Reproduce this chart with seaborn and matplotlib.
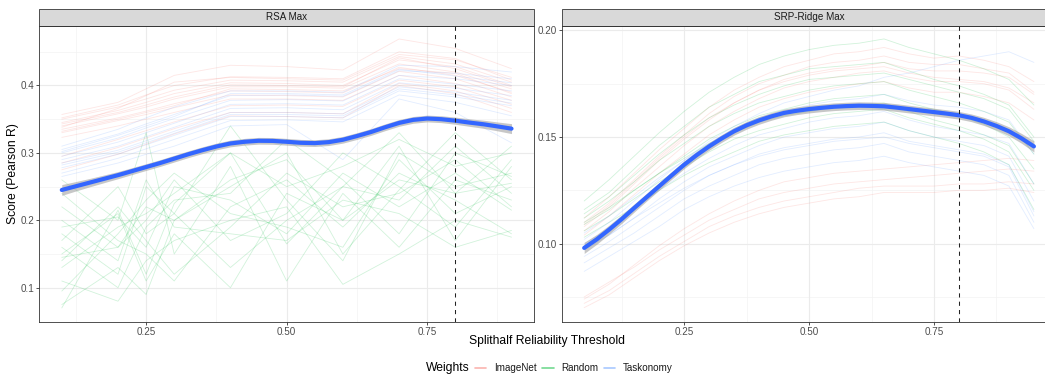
import numpy as np
import pandas as pd
import matplotlib
matplotlib.use("Agg")
import matplotlib.pyplot as plt
import seaborn as sns
from matplotlib.patches import Rectangle
from matplotlib.lines import Line2D
from matplotlib.ticker import FixedLocator

# ---------------- data ----------------
panel_titles = ["RSA Max", "SRP-Ridge Max"]
weights = ["ImageNet", "Random", "Taskonomy"]
weight_colors = ["#F8766D", "#00BA38", "#619CFF"]
vline_x = 0.8

# RSA Max thresholds
rsa_x = [0.1, 0.2, 0.25, 0.3, 0.4, 0.5, 0.6, 0.7, 0.8, 0.9]

rsa_imagenet = [
    [.357, .375, .395, .415, .430, .428, .423, .469, .455, .425],
    [.350, .368, .380, .393, .408, .407, .405, .443, .432, .405],
    [.345, .363, .375, .388, .404, .403, .400, .438, .428, .400],
    [.340, .358, .368, .380, .398, .398, .396, .432, .420, .395],
    [.335, .352, .362, .373, .392, .391, .389, .427, .415, .390],
    [.330, .348, .357, .367, .386, .385, .383, .421, .410, .383],
    [.323, .340, .350, .360, .380, .380, .378, .415, .403, .378],
    [.295, .320, .333, .346, .370, .371, .369, .408, .398, .372],
    [.285, .308, .322, .336, .360, .360, .358, .403, .392, .366],
    [.275, .298, .313, .328, .355, .354, .352, .400, .388, .360],
    [.338, .366, .385, .405, .412, .410, .408, .446, .438, .412],
    [.343, .360, .371, .383, .401, .400, .398, .441, .425, .398],
    [.352, .371, .386, .400, .413, .412, .410, .450, .440, .408],
    [.332, .350, .360, .370, .395, .394, .392, .425, .418, .388],
]
rsa_taskonomy = [
    [.310, .335, .352, .368, .392, .392, .390, .430, .428, .420],
    [.305, .328, .343, .357, .385, .386, .384, .422, .418, .410],
    [.300, .322, .337, .351, .378, .379, .377, .415, .410, .400],
    [.295, .316, .330, .344, .372, .373, .371, .410, .402, .392],
    [.290, .310, .324, .338, .366, .367, .364, .404, .396, .385],
    [.285, .304, .318, .332, .360, .360, .358, .398, .390, .378],
    [.278, .298, .312, .326, .354, .354, .352, .392, .383, .370],
    [.270, .292, .306, .320, .348, .349, .346, .386, .375, .355],
    [.265, .285, .298, .310, .340, .342, .290, .380, .360, .315],
    [.302, .326, .340, .354, .388, .388, .386, .424, .414, .404],
    [.282, .301, .315, .329, .357, .357, .355, .395, .386, .374],
]
rsa_random = [
    [.070, .215, .120, .225, .300, .165, .250, .330, .240, .310],
    [.075, .130, .090, .200, .250, .300, .150, .245, .330, .260],
    [.150, .210, .110, .180, .100, .240, .200, .310, .170, .280],
    [.260, .200, .330, .150, .280, .110, .240, .160, .260, .230],
    [.180, .120, .250, .210, .340, .230, .140, .300, .250, .270],
    [.140, .220, .170, .120, .190, .270, .220, .240, .290, .220],
    [.220, .160, .200, .260, .170, .210, .300, .250, .190, .290],
    [.095, .180, .230, .270, .210, .190, .160, .290, .210, .250],
    [.160, .100, .190, .230, .240, .320, .260, .180, .300, .265],
    [.240, .170, .150, .110, .220, .260, .190, .270, .230, .180],
    [.200, .140, .260, .190, .180, .170, .230, .210, .160, .185],
    [.130, .190, .210, .240, .300, .250, .280, .320, .280, .300],
    [.110, .080, .140, .170, .200, .220, .105, .150, .200, .175],
    [.170, .250, .180, .210, .130, .200, .250, .230, .310, .240],
    [.145, .160, .220, .200, .260, .290, .200, .260, .240, .255],
    [.190, .205, .160, .250, .230, .180, .270, .220, .270, .215],
]

# SRP-Ridge Max thresholds
srp_x = [0.05, 0.10, 0.15, 0.20, 0.25, 0.30, 0.35, 0.40, 0.45, 0.50,
         0.55, 0.60, 0.65, 0.70, 0.75, 0.80, 0.85, 0.90, 0.95]

srp_imagenet = [
    [.112, .122, .133, .144, .154, .164, .172, .178, .183, .186, .189, .190, .192, .189, .187, .188, .186, .183, .176],
    [.110, .119, .130, .141, .151, .161, .169, .175, .179, .183, .185, .186, .188, .185, .184, .184, .182, .180, .171],
    [.108, .117, .128, .139, .149, .158, .166, .172, .177, .180, .182, .183, .185, .182, .181, .181, .180, .178, .170],
    [.106, .115, .126, .136, .146, .155, .162, .168, .173, .176, .178, .180, .181, .178, .176, .176, .175, .172, .163],
    [.104, .113, .123, .133, .142, .151, .158, .164, .168, .171, .173, .175, .176, .173, .171, .171, .169, .166, .158],
    [.109, .118, .129, .140, .150, .159, .166, .172, .176, .179, .181, .182, .183, .180, .178, .177, .176, .173, .166],
    [.075, .082, .089, .097, .104, .111, .116, .121, .124, .126, .128, .129, .130, .131, .132, .133, .134, .135, .134],
    [.072, .078, .086, .094, .101, .108, .113, .117, .120, .122, .124, .126, .127, .127, .127, .128, .128, .129, .128],
    [.070, .076, .084, .092, .099, .105, .110, .114, .117, .119, .121, .122, .124, .124, .124, .125, .125, .126, .124],
    [.074, .081, .090, .099, .107, .114, .120, .125, .129, .131, .133, .134, .135, .136, .137, .138, .139, .140, .139],
]
srp_random = [
    [.120, .130, .141, .152, .162, .171, .178, .184, .188, .191, .193, .194, .196, .192, .189, .186, .182, .177, .165],
    [.116, .124, .135, .146, .155, .164, .170, .176, .179, .182, .183, .184, .185, .181, .177, .174, .170, .165, .150],
    [.112, .120, .129, .139, .147, .155, .161, .166, .169, .172, .174, .175, .176, .172, .169, .166, .162, .157, .142],
    [.109, .116, .125, .133, .141, .149, .155, .160, .163, .166, .168, .169, .170, .166, .163, .160, .156, .150, .135],
    [.106, .113, .121, .129, .136, .143, .149, .153, .156, .159, .161, .162, .163, .159, .156, .153, .149, .143, .125],
    [.103, .110, .117, .125, .132, .138, .143, .148, .151, .153, .155, .156, .157, .153, .150, .147, .143, .137, .116],
    [.110, .117, .125, .133, .140, .147, .152, .157, .160, .162, .164, .165, .166, .162, .158, .155, .151, .146, .128],
    [.114, .122, .132, .142, .151, .159, .165, .170, .174, .177, .178, .179, .180, .177, .174, .171, .168, .163, .148],
]
srp_taskonomy = [
    [.105, .113, .122, .131, .139, .147, .154, .159, .162, .165, .167, .168, .170, .167, .165, .164, .162, .158, .142],
    [.100, .107, .116, .125, .133, .140, .146, .151, .154, .157, .159, .160, .162, .158, .155, .153, .151, .147, .128],
    [.097, .104, .112, .121, .129, .136, .141, .146, .150, .152, .154, .155, .157, .153, .150, .148, .146, .141, .120],
    [.094, .101, .109, .117, .125, .132, .137, .142, .145, .147, .149, .150, .152, .148, .146, .144, .142, .137, .115],
    [.091, .098, .105, .113, .121, .127, .132, .137, .140, .142, .144, .145, .147, .143, .141, .139, .137, .132, .110],
    [.087, .094, .101, .108, .116, .122, .127, .131, .134, .136, .138, .139, .141, .138, .136, .134, .132, .127, .107],
    [.098, .104, .112, .119, .126, .132, .137, .141, .144, .146, .148, .149, .150, .147, .145, .143, .141, .136, .113],
    [.102, .110, .120, .130, .139, .148, .155, .161, .166, .169, .172, .174, .178, .180, .183, .186, .188, .190, .185],
]

# smooth (loess) fits
rsa_smooth_x = [0.100, 0.125, 0.150, 0.175, 0.200, 0.225, 0.250, 0.275, 0.300, 0.325,
                0.350, 0.375, 0.400, 0.425, 0.450, 0.475, 0.500, 0.525, 0.550, 0.575,
                0.600, 0.625, 0.650, 0.675, 0.700, 0.725, 0.750, 0.775, 0.800, 0.825,
                0.850, 0.875, 0.900]
rsa_smooth_y = [.2450, .2505, .2560, .2615, .2670, .2730, .2790, .2850, .2915, .2980,
                .3040, .3095, .3140, .3165, .3180, .3178, .3165, .3150, .3145, .3160,
                .3195, .3250, .3310, .3380, .3445, .3490, .3510, .3500, .3478, .3450,
                .3425, .3393, .3360]
rsa_smooth_se = [.0080, .0070, .0062, .0057, .0053, .0051, .0050, .0050, .0050, .0050,
                 .0050, .0050, .0050, .0050, .0050, .0050, .0050, .0050, .0050, .0050,
                 .0050, .0050, .0050, .0050, .0050, .0050, .0050, .0051, .0053, .0056,
                 .0060, .0066, .0074]

srp_smooth_x = [0.050, 0.075, 0.100, 0.125, 0.150, 0.175, 0.200, 0.225, 0.250, 0.275,
                0.300, 0.325, 0.350, 0.375, 0.400, 0.425, 0.450, 0.475, 0.500, 0.525,
                0.550, 0.575, 0.600, 0.625, 0.650, 0.675, 0.700, 0.725, 0.750, 0.775,
                0.800, 0.825, 0.850, 0.875, 0.900, 0.925, 0.950]
srp_smooth_y = [.0980, .1020, .1066, .1115, .1167, .1218, .1269, .1320, .1370, .1415,
                .1456, .1493, .1527, .1555, .1578, .1597, .1613, .1623, .1631, .1637,
                .1642, .1645, .1647, .1646, .1644, .1638, .1631, .1624, .1617, .1610,
                .1602, .1590, .1573, .1552, .1527, .1494, .1456]
srp_smooth_se = [.0026, .0023, .0021, .0020, .0019, .0018, .0018, .0018, .0018, .0018,
                 .0018, .0018, .0018, .0018, .0018, .0018, .0018, .0018, .0018, .0018,
                 .0018, .0018, .0018, .0018, .0018, .0018, .0018, .0018, .0018, .0018,
                 .0018, .0018, .0019, .0020, .0021, .0023, .0026]

x_ticks = [0.25, 0.50, 0.75]
x_tick_labels = ["0.25", "0.50", "0.75"]
rsa_y_ticks = [0.1, 0.2, 0.3, 0.4]
rsa_y_tick_labels = ["0.1", "0.2", "0.3", "0.4"]
srp_y_ticks = [0.10, 0.15, 0.20]
srp_y_tick_labels = ["0.10", "0.15", "0.20"]

x_title = "Splithalf Reliability Threshold"
y_title = "Score (Pearson R)"
legend_title = "Weights"

# ---------------- build long frames ----------------
def to_frame(xs, groups):
    rows = []
    for wname, lines in groups:
        for i, line in enumerate(lines):
            for xv, yv in zip(xs, line):
                rows.append({"x": xv, "score": yv, "weights": wname,
                             "model": f"{wname}_{i}"})
    return pd.DataFrame(rows)

rsa_df = to_frame(rsa_x, [("ImageNet", rsa_imagenet), ("Random", rsa_random),
                          ("Taskonomy", rsa_taskonomy)])
srp_df = to_frame(srp_x, [("ImageNet", srp_imagenet), ("Random", srp_random),
                          ("Taskonomy", srp_taskonomy)])
rsa_sm = pd.DataFrame({"x": rsa_smooth_x, "y": rsa_smooth_y, "se": rsa_smooth_se})
srp_sm = pd.DataFrame({"x": srp_smooth_x, "y": srp_smooth_y, "se": srp_smooth_se})

# ---------------- style ----------------
sns.set_theme(style="white")
plt.rcParams["font.family"] = ["Liberation Sans", "DejaVu Sans"]

W, H = 1045, 377
fig = plt.figure(figsize=(W / 100, H / 100), dpi=100)

panel_w = 494.7
panel_top = 25.5
panel_bot = 321.7
panel_lefts = [39.3, 561.7]
strip_h = 16.2

palette = dict(zip(weights, weight_colors))

specs = [
    (rsa_df, rsa_sm, (0.06, 0.94), (0.0496, 0.489), rsa_y_ticks, rsa_y_tick_labels,
     [0.125, 0.375, 0.625, 0.875], [0.15, 0.25, 0.35, 0.45]),
    (srp_df, srp_sm, (0.005, 0.995), (0.0634, 0.2023), srp_y_ticks, srp_y_tick_labels,
     [0.125, 0.375, 0.625, 0.875], [0.075, 0.125, 0.175]),
]

for k, (df, sm, xl, yl, yt, ytl, xminor, yminor) in enumerate(specs):
    left = panel_lefts[k]
    ax = fig.add_axes([left / W, (H - panel_bot) / H, panel_w / W,
                       (panel_bot - panel_top) / H])
    ax.set_facecolor("white")
    # grid
    for v in xminor:
        ax.axvline(v, color="#F2F2F2", lw=0.45, zorder=0)
    for v in yminor:
        ax.axhline(v, color="#F2F2F2", lw=0.45, zorder=0)
    for v in x_ticks:
        ax.axvline(v, color="#EBEBEB", lw=0.8, zorder=0)
    for v in yt:
        ax.axhline(v, color="#EBEBEB", lw=0.8, zorder=0)

    sns.lineplot(data=df, x="x", y="score", hue="weights", units="model",
                 estimator=None, palette=palette, alpha=0.18, linewidth=0.6,
                 legend=False, ax=ax, zorder=2)
    ax.fill_between(sm["x"], sm["y"] - sm["se"], sm["y"] + sm["se"],
                    color="#9A9A9A", alpha=0.55, lw=0, zorder=3)
    sns.lineplot(data=sm, x="x", y="y", color="#3366FF", linewidth=3.0,
                 ax=ax, zorder=4)
    ax.axvline(vline_x, color="#222222", lw=0.75, ls=(0, (4, 4)), zorder=5)

    ax.set_xlim(*xl)
    ax.set_ylim(*yl)
    ax.xaxis.set_major_locator(FixedLocator(x_ticks))
    ax.set_xticklabels(x_tick_labels)
    ax.yaxis.set_major_locator(FixedLocator(yt))
    ax.set_yticklabels(ytl)
    ax.tick_params(axis="both", which="major", length=2.0, width=0.6,
                   color="#333333", labelsize=7.1, labelcolor="#4D4D4D", pad=1.5,
                   bottom=True, left=True)
    ax.set_xlabel("")
    ax.set_ylabel("")
    for s in ax.spines.values():
        s.set_color("#333333")
        s.set_linewidth(0.6)
        s.set_zorder(6)

    # facet strip
    sh = strip_h / (panel_bot - panel_top)
    ax.add_patch(Rectangle((0, 1), 1, sh, transform=ax.transAxes,
                           facecolor="#D9D9D9", edgecolor="#333333", lw=0.6,
                           clip_on=False, zorder=6))
    ax.text(0.5, 1 + sh / 2, panel_titles[k], transform=ax.transAxes,
            ha="center", va="center", fontsize=7.1, color="#1A1A1A", zorder=8)

fig.text(547 / W, 1 - 341 / H, x_title, ha="center", va="center",
         fontsize=8.7, color="black")
fig.text(13 / W, 1 - 173.6 / H, y_title, ha="center", va="center",
         rotation=90, fontsize=8.7, color="black")

fig.text(448 / W, 1 - 368 / H, legend_title, ha="center", va="center",
         fontsize=8.7, color="black")
handles = [Line2D([0], [0], color=c, lw=1.2, alpha=0.55) for c in weight_colors]
fig.legend(handles, weights, loc="center left",
           bbox_to_anchor=(475 / W, 1 - 368 / H), ncol=3, frameon=False,
           fontsize=7.1, handlelength=1.15, handletextpad=0.75,
           columnspacing=0.6, borderaxespad=0, borderpad=0)
for t in fig.legends[0].get_texts():
    t.set_color("#1A1A1A")

fig.savefig("out.png", dpi=100)
